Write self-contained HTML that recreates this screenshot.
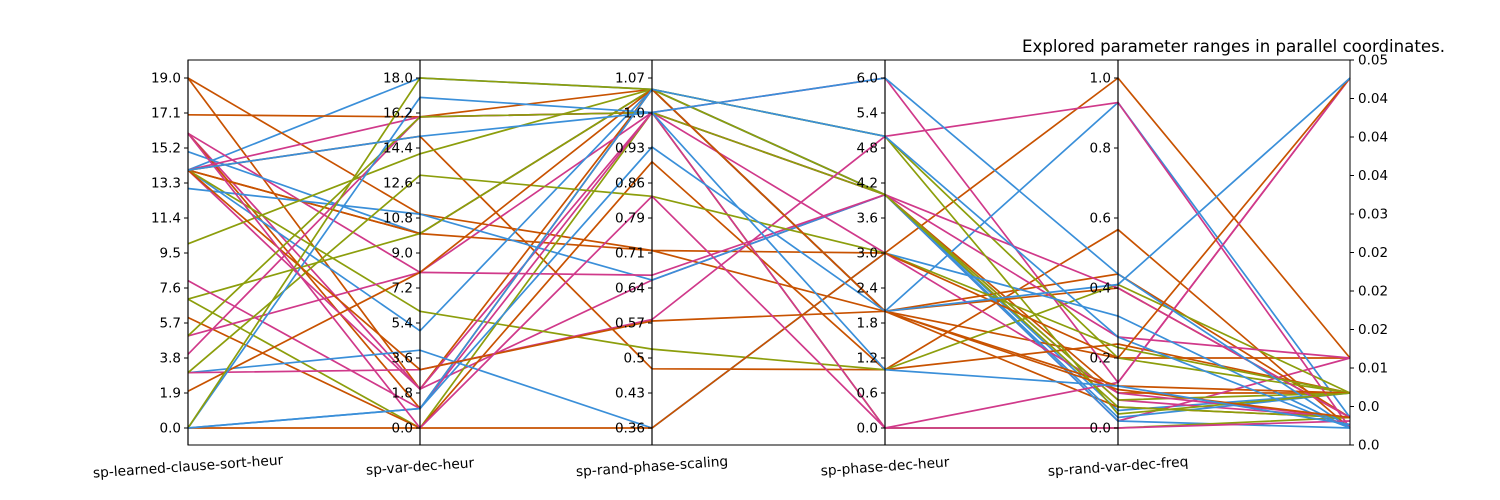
<!DOCTYPE html>
<html><head><meta charset="utf-8"><style>
body{margin:0;background:#fff;}
svg{display:block;font-family:"DejaVu Sans","Liberation Sans",sans-serif;}
</style></head><body>
<svg id="chart" width="1500" height="500"></svg>
<script>
const axisNames=["sp-learned-clause-sort-heur","sp-var-dec-heur","sp-rand-phase-scaling","sp-phase-dec-heur","sp-rand-var-dec-freq"];
const axisMins=[0,0,0.36,0,0,0];
const axisMaxs=[19,18,1.07,6,1,1];
const tickLabels1=["0.0","1.9","3.8","5.7","7.6","9.5","11.4","13.3","15.2","17.1","19.0"];
const tickLabels2=["0.0","1.8","3.6","5.4","7.2","9.0","10.8","12.6","14.4","16.2","18.0"];
const tickLabels3=["0.36","0.43","0.5","0.57","0.64","0.71","0.79","0.86","0.93","1.0","1.07"];
const tickLabels4=["0.0","0.6","1.2","1.8","2.4","3.0","3.6","4.2","4.8","5.4","6.0"];
const tickLabels5=["0.0","0.2","0.4","0.6","0.8","1.0"];
const tickLabelsRight=["0.0","0.0","0.01","0.02","0.02","0.02","0.03","0.04","0.04","0.04","0.05"];
const lineColors=["B","O","O","O","P","P","O","B","P","O","O","O","B","G","P","B","G","G","G","P","O","P","P","G","B","P","G","O","B","G","B","O","B","O","P","B"];
const lineValues=[
[14,18,1.047,4,0.05,0.1],[19,11,0.72,2,0.4,0.03],[19,2,1.047,4,0.1,0.1],[17,16,1.047,2,0.2,0.2],
[16,8,1.0,4,0.08,0.03],[16,2,0.66,4,0.02,0.2],[16,1,1.047,2,0.06,0.03],[15,10,1.047,4,0.03,0.1],
[14,16,1.0,6,0.13,1.0],[14,15,0.48,1,0.567,0.0],[14,10,1.047,2,0.44,0.03],[14,10,0.72,3,1.0,0.2],
[14,5,1.047,2,0.93,0.03],[14,6,0.52,1,0.41,0.1],[14,2,1.0,4,0.26,0.2],[13,11,0.66,4,0.02,0.0],
[10,14.1,1.047,4,0.08,0.1],[7,10,1.047,5,0.2,0.1],[7,0,1.0,0,0.0,0.03],[8,1,1.0,3,0.1,0.03],
[6,0,0.9,1,0.24,0.1],[5,8,0.67,4,0.4,0.03],[4,16,1.0,0,0.13,1.0],[5,16,1.0,4,0.06,0.03],
[3,4,0.36,3,0.32,0.0],[3,3,0.58,5,0.93,0.0],[3,13,0.83,3,0.23,0.1],[2,8,1.047,2,0.12,0.1],
[0,17,1.0,6,0.44,0.0],[0,18,1.047,5,0.04,0.1],[0,1,1.047,5,0.26,0.0],[0,0,0.36,3,0.2,1.0],
[0,1,0.93,2,0.41,1.0],[14,3,0.577,2,0.11,0.03],[16,0,0.83,0,0.0,0.02],[14,15,1.0,1,0.12,0.01]];
const colorMap={B:"#3a8fd9",O:"#c85200",G:"#8c9e0c",P:"#d0398a"};
const NS="http://www.w3.org/2000/svg";
const svg=document.getElementById("chart");
const axisX=[188,420,652,885,1118,1350];
const yTop=78,yBot=428;
function yScale(i,v){return yBot-(v-axisMins[i])/(axisMaxs[i]-axisMins[i])*(yBot-yTop);}
function mk(t,a){const e=document.createElementNS(NS,t);for(const k in a)e.setAttribute(k,a[k]);svg.appendChild(e);return e;}
lineValues.forEach((vals,li)=>{
  const pts=vals.map((v,i)=>axisX[i]+","+yScale(i,v).toFixed(1)).join(" ");
  const p=mk("polyline",{points:pts,fill:"none",stroke:colorMap[lineColors[li]],"stroke-width":1.7});
  
  
});
const fr=mk("rect",{x:188,y:60,width:1162,height:385,fill:"none",stroke:"#000","stroke-width":1});


const tickSets=[tickLabels1,tickLabels2,tickLabels3,tickLabels4,tickLabels5];
for(let i=0;i<5;i++){
  const ax=mk("line",{x1:axisX[i],x2:axisX[i],y1:60,y2:445,stroke:"#000","stroke-width":1.2});
  
  
  const labs=tickSets[i];
  labs.forEach((t,k)=>{
    const y=yBot-k/(labs.length-1)*(yBot-yTop);
    mk("line",{x1:axisX[i]-4,x2:axisX[i],y1:y,y2:y,stroke:"#000","stroke-width":1});
    const tx=mk("text",{x:axisX[i]-7,y:y+4.5,"text-anchor":"end","font-size":13.5,fill:"#000"});
    tx.textContent=t;
    
    
  });
  const xl=mk("text",{x:axisX[i],y:471,"text-anchor":"middle","font-size":13.8,fill:"#000",transform:`rotate(-4 ${axisX[i]} 466)`});
  xl.textContent=axisNames[i];
  
  
}
tickLabelsRight.forEach((t,k)=>{
  const y=445-k*38.5;
  mk("line",{x1:1350,x2:1354,y1:y,y2:y,stroke:"#000","stroke-width":1});
  const tx=mk("text",{x:1358,y:y+4.5,"font-size":13.5,fill:"#000"});
  tx.textContent=t;
  
  
});
const ti=mk("text",{x:1445,y:52,"text-anchor":"end","font-size":16.6,fill:"#000"});
ti.textContent="Explored parameter ranges in parallel coordinates.";


</script>
</body></html>
